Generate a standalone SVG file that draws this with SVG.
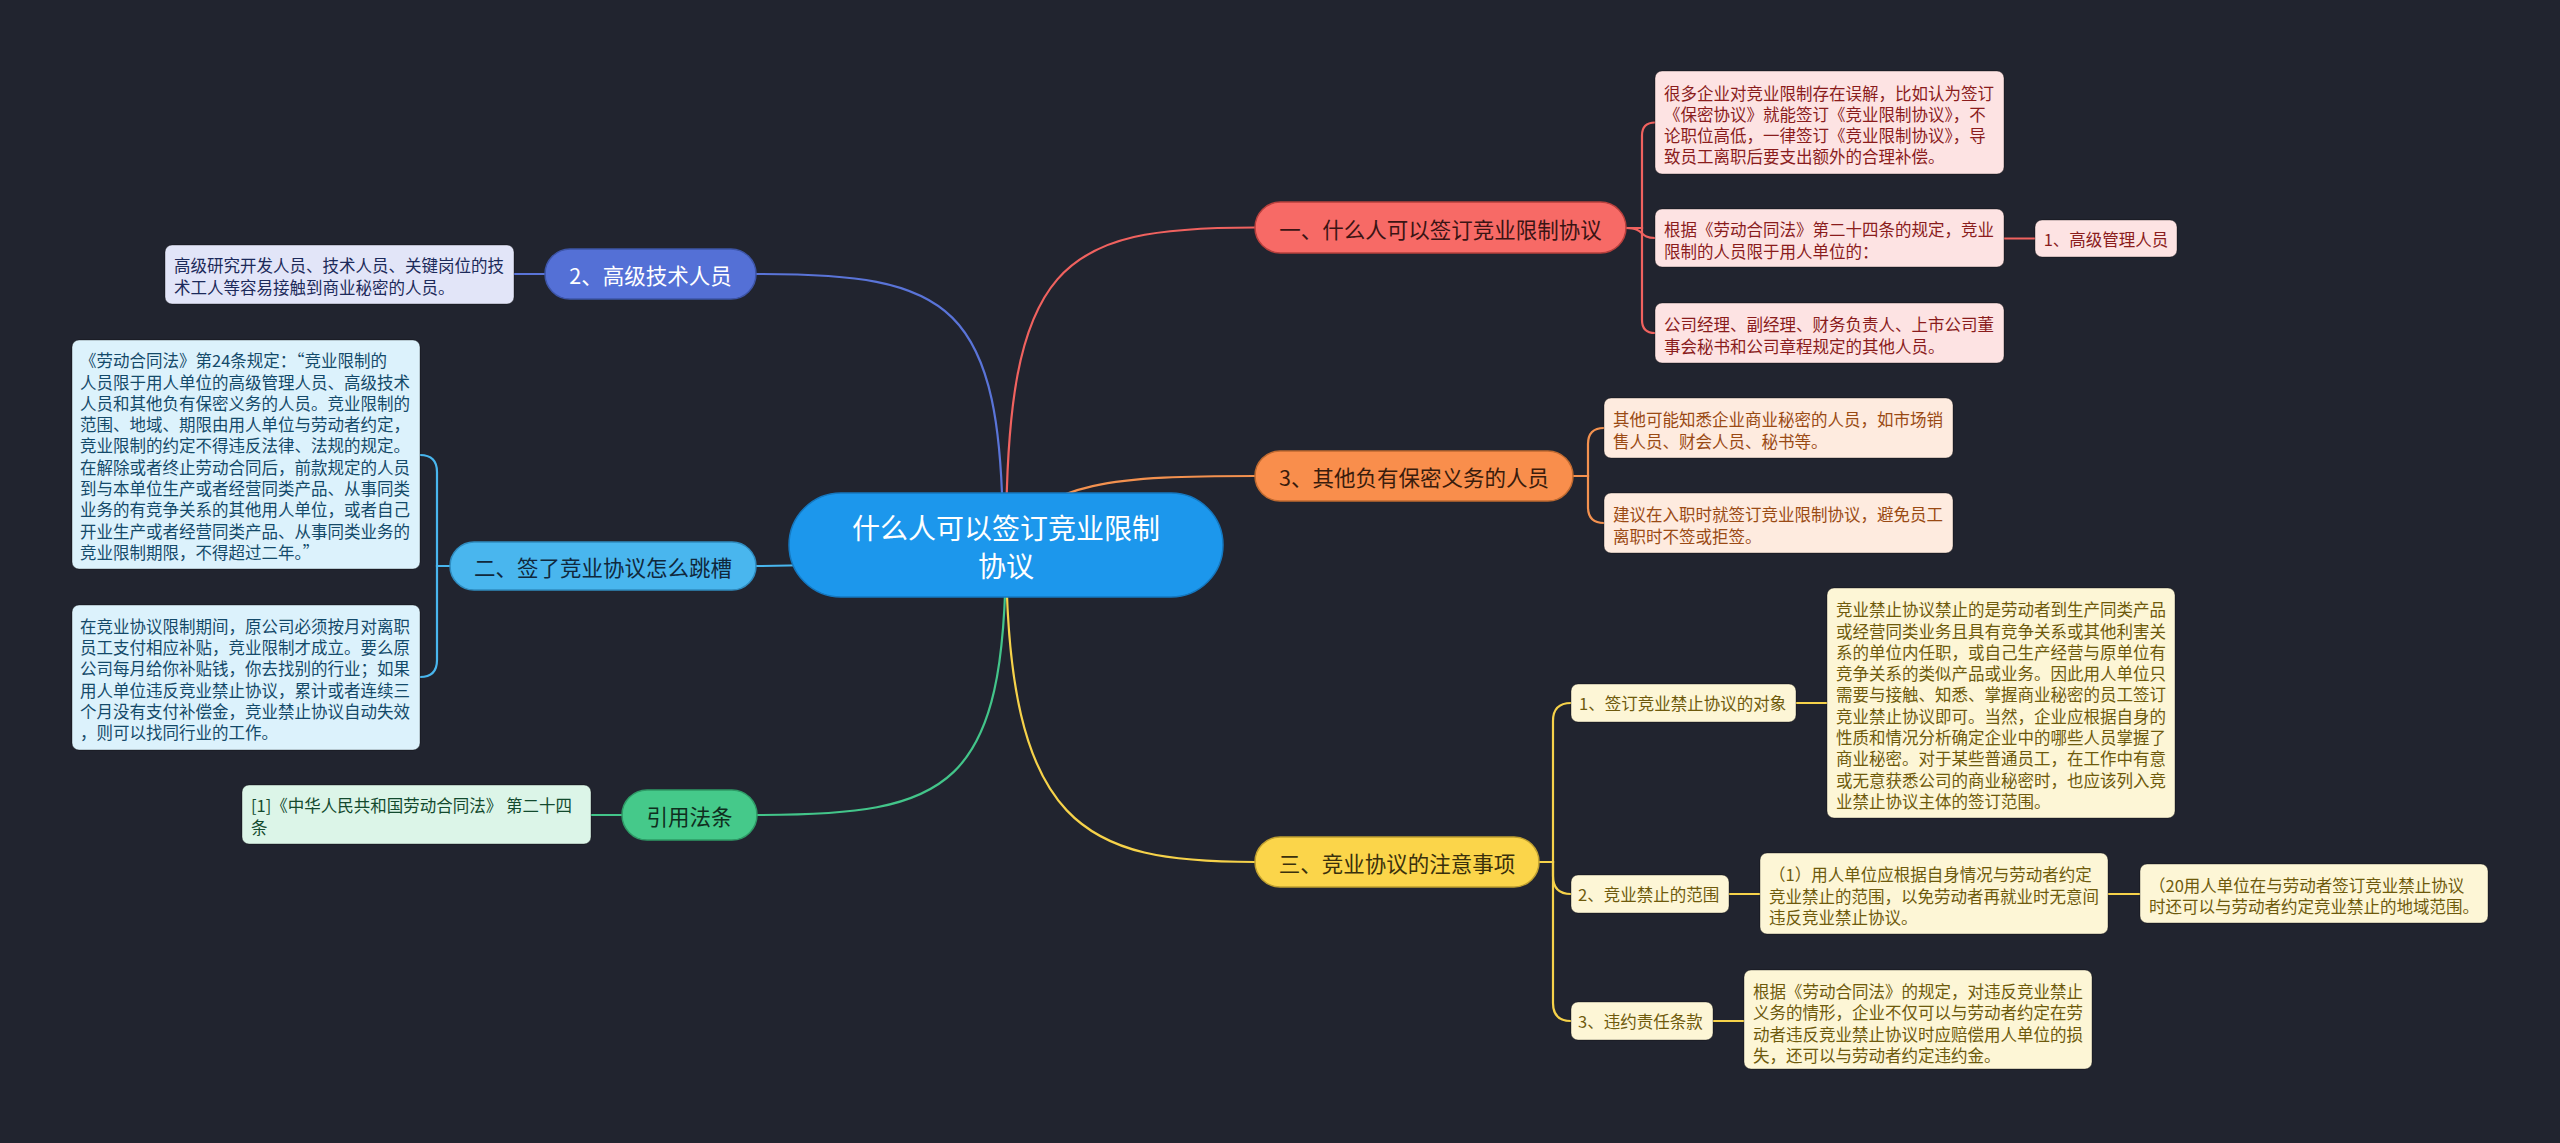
<svg xmlns="http://www.w3.org/2000/svg" width="2560" height="1143" viewBox="0 0 2560 1143">
<style>
text{font-family:"Noto Sans CJK SC","Noto Sans",sans-serif;dominant-baseline:central}
.n{font-size:16.5px}
.b{font-size:21.5px;text-anchor:middle}
.c{font-size:28px;text-anchor:middle;fill:#ffffff}
.nb{stroke:rgba(0,0,0,0.35);stroke-width:1}
.ln{fill:none;stroke-width:2.2;stroke-linecap:round}
.red{stroke:#f0625f}.blu{stroke:#5a74d8}.org{stroke:#f3914f}.lbl{stroke:#49b6ee}.grn{stroke:#43c58a}.yel{stroke:#f6d24a}
.rn{fill:#fde3e3}.rt{fill:#8a1c1c}
.on{fill:#feebdf}.ot{fill:#9a4a14}
.yn{fill:#fdf6d6}.yt{fill:#6e5a0c}
.pn{fill:#e2e5f8}.pt{fill:#1c2a5a}
.cn{fill:#dcf2fc}.ct{fill:#144a6a}
.gn{fill:#dcf5e8}.gt{fill:#134a2e}
</style>
<rect x="0" y="0" width="2560" height="1143" fill="#21242f"/>

<g id="connectors">
<path class="ln red" d="M1006 545 C1006 260 1060 227.5 1255 227.5"/>
<path class="ln blu" d="M1003 545 C1003 300 950 274 756 274"/>
<path class="ln org" d="M1006 545 C1040 480 1120 476 1255 476"/>
<path class="ln lbl" d="M1006 545 C950 545 900 566 756 566"/>
<path class="ln grn" d="M1006 545 C1006 790 950 815 756 815"/>
<path class="ln yel" d="M1006 545 C1006 830 1085 862 1255 862"/>
<!-- red bracket -->
<path class="ln red" d="M1626 228 H1642 V135.5 Q1642 122.5 1655 122.5"/>
<path class="ln red" d="M1626 228 C1646 228 1638 238 1655 238"/>
<path class="ln red" d="M1626 228 H1642 V320 Q1642 333 1655 333"/>
<path class="ln red" d="M2004 238.5 H2035"/>
<!-- orange bracket -->
<path class="ln org" d="M1573 476 H1588 V444 Q1588 428 1604 428"/>
<path class="ln org" d="M1573 476 H1588 V507 Q1588 523 1604 523"/>
<!-- yellow bracket -->
<path class="ln yel" d="M1538 862 H1553 V721 Q1553 703 1571 703"/>
<path class="ln yel" d="M1538 862 H1553 V876 Q1553 894 1571 894"/>
<path class="ln yel" d="M1538 862 H1553 V1003 Q1553 1021 1571 1021"/>
<path class="ln yel" d="M1796 703 H1827"/>
<path class="ln yel" d="M1729 894 H1760"/>
<path class="ln yel" d="M2108 894 H2140"/>
<path class="ln yel" d="M1713 1021 H1744"/>
<!-- left side -->
<path class="ln blu" d="M545 274 H514"/>
<path class="ln lbl" d="M450 566 H437 V472 Q437 455 420 455"/>
<path class="ln lbl" d="M450 566 H437 V660 Q437 677 420 677"/>
<path class="ln grn" d="M622 815 H591"/>
</g>

<g id="root">
<rect x="789" y="493" width="434" height="104" rx="52" fill="#1c97ec" stroke="#1578c0" stroke-width="1.5"/>
<text class="c" x="1006" y="527">什么人可以签订竞业限制</text>
<text class="c" x="1006" y="565">协议</text>
</g>

<g id="b1">
<rect x="1255" y="202" width="371" height="51" rx="25.5" fill="#f76a66" stroke="#b8403d" stroke-width="1.5"/>
<text class="b" x="1440.5" y="228" fill="#3a1414">一、什么人可以签订竞业限制协议</text>
</g>
<g id="b1n1">
<rect class="rn nb" x="1655" y="71" width="349" height="103" rx="7"/>
<g class="rt n">
<text x="1664" y="92.5">很多企业对竞业限制存在误解，比如认为签订</text>
<text x="1664" y="113.8">《保密协议》就能签订《竞业限制协议》，不</text>
<text x="1664" y="135.1">论职位高低，一律签订《竞业限制协议》，导</text>
<text x="1664" y="156.4">致员工离职后要支出额外的合理补偿。</text>
</g>
</g>
<g id="b1n2">
<rect class="rn nb" x="1655" y="209" width="349" height="58" rx="7"/>
<g class="rt n">
<text x="1664" y="229.4">根据《劳动合同法》第二十四条的规定，竞业</text>
<text x="1664" y="250.7">限制的人员限于用人单位的：</text>
</g>
</g>
<g id="b1n2c">
<rect class="rn nb" x="2035" y="220" width="142" height="37" rx="7"/>
<text class="rt n" x="2106" y="239" text-anchor="middle">1、高级管理人员</text>
</g>
<g id="b1n3">
<rect class="rn nb" x="1655" y="303" width="349" height="60" rx="7"/>
<g class="rt n">
<text x="1664" y="324.4">公司经理、副经理、财务负责人、上市公司董</text>
<text x="1664" y="345.7">事会秘书和公司章程规定的其他人员。</text>
</g>
</g>

<g id="b3">
<rect x="1255" y="451" width="318" height="50" rx="25" fill="#f98e4c" stroke="#c06a30" stroke-width="1.5"/>
<text class="b" x="1414" y="476" fill="#3a1c0c">3、其他负有保密义务的人员</text>
</g>
<g id="b3n1">
<rect class="on nb" x="1604" y="398" width="349" height="60" rx="7"/>
<g class="ot n">
<text x="1613" y="419.4">其他可能知悉企业商业秘密的人员，如市场销</text>
<text x="1613" y="440.7">售人员、财会人员、秘书等。</text>
</g>
</g>
<g id="b3n2">
<rect class="on nb" x="1604" y="493" width="349" height="60" rx="7"/>
<g class="ot n">
<text x="1613" y="514.4">建议在入职时就签订竞业限制协议，避免员工</text>
<text x="1613" y="535.7">离职时不签或拒签。</text>
</g>
</g>

<g id="b4">
<rect x="1255" y="837" width="284" height="50" rx="25" fill="#fbd54a" stroke="#c0a030" stroke-width="1.5"/>
<text class="b" x="1397" y="862" fill="#3a300c">三、竞业协议的注意事项</text>
</g>
<g id="b4c1">
<rect class="yn nb" x="1571" y="684" width="225" height="38" rx="7"/>
<text class="yt n" x="1579" y="703">1、签订竞业禁止协议的对象</text>
</g>
<g id="b4c1n">
<rect class="yn nb" x="1827" y="588" width="348" height="230" rx="7"/>
<g class="yt n">
<text x="1836" y="609.2">竞业禁止协议禁止的是劳动者到生产同类产品</text>
<text x="1836" y="630.5">或经营同类业务且具有竞争关系或其他利害关</text>
<text x="1836" y="651.8">系的单位内任职，或自己生产经营与原单位有</text>
<text x="1836" y="673.1">竞争关系的类似产品或业务。因此用人单位只</text>
<text x="1836" y="694.4">需要与接触、知悉、掌握商业秘密的员工签订</text>
<text x="1836" y="715.7">竞业禁止协议即可。当然，企业应根据自身的</text>
<text x="1836" y="737">性质和情况分析确定企业中的哪些人员掌握了</text>
<text x="1836" y="758.3">商业秘密。对于某些普通员工，在工作中有意</text>
<text x="1836" y="779.6">或无意获悉公司的商业秘密时，也应该列入竞</text>
<text x="1836" y="800.9">业禁止协议主体的签订范围。</text>
</g>
</g>
<g id="b4c2">
<rect class="yn nb" x="1571" y="875" width="158" height="38" rx="7"/>
<text class="yt n" x="1578" y="894">2、竞业禁止的范围</text>
</g>
<g id="b4c2n">
<rect class="yn nb" x="1760" y="853" width="348" height="81" rx="7"/>
<g class="yt n">
<text x="1769" y="874.2">（1）用人单位应根据自身情况与劳动者约定</text>
<text x="1769" y="895.5">竞业禁止的范围，以免劳动者再就业时无意间</text>
<text x="1769" y="916.8">违反竞业禁止协议。</text>
</g>
</g>
<g id="b4c2n2">
<rect class="yn nb" x="2140" y="864" width="348" height="59" rx="7"/>
<g class="yt n">
<text x="2149" y="884.9">（20用人单位在与劳动者签订竞业禁止协议</text>
<text x="2149" y="906.2">时还可以与劳动者约定竞业禁止的地域范围。</text>
</g>
</g>
<g id="b4c3">
<rect class="yn nb" x="1571" y="1002" width="142" height="38" rx="7"/>
<text class="yt n" x="1578" y="1021">3、违约责任条款</text>
</g>
<g id="b4c3n">
<rect class="yn nb" x="1744" y="970" width="348" height="99" rx="7"/>
<g class="yt n">
<text x="1753" y="991">根据《劳动合同法》的规定，对违反竞业禁止</text>
<text x="1753" y="1012.3">义务的情形，企业不仅可以与劳动者约定在劳</text>
<text x="1753" y="1033.6">动者违反竞业禁止协议时应赔偿用人单位的损</text>
<text x="1753" y="1054.9">失，还可以与劳动者约定违约金。</text>
</g>
</g>

<g id="b2">
<rect x="545" y="249" width="211" height="50" rx="25" fill="#5470d6" stroke="#3d55a8" stroke-width="1.5"/>
<text class="b" x="650.5" y="274" fill="#ffffff">2、高级技术人员</text>
</g>
<g id="b2n">
<rect class="pn nb" x="165" y="245" width="349" height="59" rx="7"/>
<g class="pt n">
<text x="174" y="265.4">高级研究开发人员、技术人员、关键岗位的技</text>
<text x="174" y="286.7">术工人等容易接触到商业秘密的人员。</text>
</g>
</g>

<g id="b5">
<rect x="450" y="542" width="306" height="48" rx="24" fill="#49b6ee" stroke="#2f8cc0" stroke-width="1.5"/>
<text class="b" x="603" y="566" fill="#10283c">二、签了竞业协议怎么跳槽</text>
</g>
<g id="b5n1">
<rect class="cn nb" x="72" y="340" width="348" height="229" rx="7"/>
<g class="ct n">
<text x="80" y="360.2">《劳动合同法》第24条规定：“竞业限制的</text>
<text x="80" y="381.5">人员限于用人单位的高级管理人员、高级技术</text>
<text x="80" y="402.8">人员和其他负有保密义务的人员。竞业限制的</text>
<text x="80" y="424.1">范围、地域、期限由用人单位与劳动者约定，</text>
<text x="80" y="445.4">竞业限制的约定不得违反法律、法规的规定。</text>
<text x="80" y="466.7">在解除或者终止劳动合同后，前款规定的人员</text>
<text x="80" y="488">到与本单位生产或者经营同类产品、从事同类</text>
<text x="80" y="509.3">业务的有竞争关系的其他用人单位，或者自己</text>
<text x="80" y="530.6">开业生产或者经营同类产品、从事同类业务的</text>
<text x="80" y="551.9">竞业限制期限，不得超过二年。”</text>
</g>
</g>
<g id="b5n2">
<rect class="cn nb" x="72" y="605" width="348" height="145" rx="7"/>
<g class="ct n">
<text x="80" y="625.8">在竞业协议限制期间，原公司必须按月对离职</text>
<text x="80" y="647.1">员工支付相应补贴，竞业限制才成立。要么原</text>
<text x="80" y="668.4">公司每月给你补贴钱，你去找别的行业；如果</text>
<text x="80" y="689.7">用人单位违反竞业禁止协议，累计或者连续三</text>
<text x="80" y="711">个月没有支付补偿金，竞业禁止协议自动失效</text>
<text x="80" y="732.3">，则可以找同行业的工作。</text>
</g>
</g>

<g id="b6">
<rect x="622" y="790" width="135" height="50" rx="25" fill="#45c98a" stroke="#2e9a66" stroke-width="1.5"/>
<text class="b" x="689.5" y="815" fill="#0f2e1e">引用法条</text>
</g>
<g id="b6n">
<rect class="gn nb" x="242" y="785" width="349" height="59" rx="7"/>
<g class="gt n">
<text x="251" y="805.4">[1]《中华人民共和国劳动合同法》 第二十四</text>
<text x="251" y="826.7">条</text>
</g>
</g>
</svg>
